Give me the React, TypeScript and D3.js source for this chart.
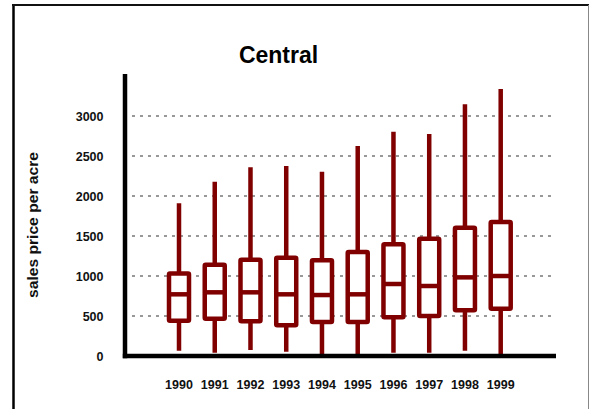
import React from "react";
import * as d3 from "d3";

const years = ["1990", "1991", "1992", "1993", "1994", "1995", "1996", "1997", "1998", "1999"];
const lowValues = [66, 41, 75, 54, 25, 25, 41, 41, 66, 12];
const q1Values = [441, 466, 433, 384, 425, 425, 484, 500, 571, 591];
const medianValues = [771, 796, 796, 771, 762, 771, 900, 875, 983, 1000];
const q3Values = [1030, 1141, 1204, 1229, 1196, 1300, 1396, 1466, 1604, 1675];
const highValues = [1908, 2179, 2358, 2375, 2304, 2625, 2804, 2775, 3146, 3338];
const yTicks = [0, 500, 1000, 1500, 2000, 2500, 3000];
const title = "Central";
const yLabel = "sales price per acre";

const W = 589;
const H = 409;
const FONT = "'Liberation Sans', Arial, Helvetica, sans-serif";
const RED = "#800000";

export default function App() {
  const x = d3.scalePoint<string>().domain(years).range([179, 500.7]);
  const y = d3.scaleLinear().domain([0, 3500]).range([356, 76]);
  const boxW = 20;
  const sw = 4.5;

  return (
    <svg
      width={W}
      height={H}
      style={{ position: "absolute", left: 0, top: 0, background: "#fff" }}
      fontFamily={FONT}
    >
      {/* frame */}
      <line x1={13.5} y1={4} x2={13.5} y2={H + 2} stroke="#000" strokeWidth={2.5} />
      <line x1={12} y1={5} x2={589} y2={5} stroke="#111" strokeWidth={2} />
      <line x1={588.5} y1={5} x2={588.5} y2={H + 2} stroke="#888" strokeWidth={1} />

      {/* title */}
      <text x={278.5} y={62.5} textAnchor="middle" fontSize={23} fontWeight="bold" fill="#000">
        {title}
      </text>

      {/* gridlines */}
      {yTicks.filter((t) => t > 0).map((t) => (
        <line
          key={"g" + t}
          x1={132}
          x2={556}
          y1={y(t)}
          y2={y(t)}
          stroke="#333"
          strokeWidth={1}
          strokeDasharray="3,5"
        />
      ))}

      {/* y tick labels */}
      {yTicks.map((t) => (
        <text
          key={"t" + t}
          x={103.5}
          y={y(t)}
          dy="0.36em"
          textAnchor="end"
          fontSize={12.5}
          fontWeight="bold"
          fill="#111"
        >
          {t}
        </text>
      ))}

      {/* y label */}
      <text
        transform={`translate(33,225) rotate(-90)`}
        textAnchor="middle"
        dominantBaseline="central"
        fontSize={14.5}
        fontWeight="bold"
        fill="#111"
        textLength={146}
        lengthAdjust="spacingAndGlyphs"
      >
        {yLabel}
      </text>

      {/* boxes */}
      {years.map((yr, i) => {
        const cx = x(yr) as number;
        return (
          <g key={yr}>
            <line x1={cx} x2={cx} y1={y(lowValues[i])} y2={y(highValues[i])} stroke={RED} strokeWidth={4.5} />
            <rect
              x={cx - boxW / 2}
              y={y(q3Values[i])}
              width={boxW}
              height={y(q1Values[i]) - y(q3Values[i])}
              fill="#fff"
              stroke={RED}
              strokeWidth={sw}
              rx={1}
            />
            <line
              x1={cx - boxW / 2}
              x2={cx + boxW / 2}
              y1={y(medianValues[i])}
              y2={y(medianValues[i])}
              stroke={RED}
              strokeWidth={sw}
            />
          </g>
        );
      })}

      {/* axes */}
      <line x1={125} x2={125} y1={74} y2={358.2} stroke="#000" strokeWidth={4.5} />
      <line x1={122.8} x2={556} y1={356} y2={356} stroke="#000" strokeWidth={4.5} />

      {/* x labels */}
      {years.map((yr) => (
        <text
          key={"x" + yr}
          x={x(yr) as number}
          y={389}
          textAnchor="middle"
          fontSize={12.5}
          fontWeight="bold"
          fill="#111"
        >
          {yr}
        </text>
      ))}
    </svg>
  );
}
